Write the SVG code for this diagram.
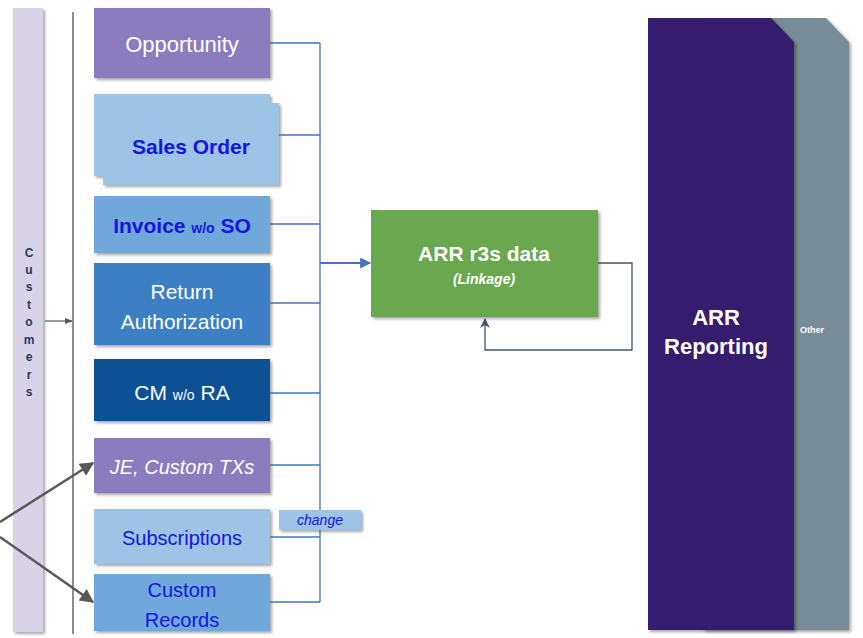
<svg xmlns="http://www.w3.org/2000/svg" width="863" height="638" viewBox="0 0 863 638">
<defs>
<filter id="sh" x="-10%" y="-10%" width="130%" height="130%">
<feDropShadow dx="2" dy="2" stdDeviation="1.5" flood-color="#000" flood-opacity="0.35"/>
</filter>
<marker id="ab2" viewBox="0 0 10 10" refX="9" refY="5" markerWidth="16" markerHeight="11" markerUnits="userSpaceOnUse" orient="auto"><path d="M0,0 L10,5 L0,10 z" fill="#4472c4"/></marker>
<marker id="ag" viewBox="0 0 10 10" refX="9" refY="5" markerWidth="8" markerHeight="8" markerUnits="userSpaceOnUse" orient="auto"><path d="M0,1 L10,5 L0,9 z" fill="#595959"/></marker>
<marker id="agb" viewBox="0 0 10 10" refX="9" refY="5" markerWidth="16" markerHeight="14" markerUnits="userSpaceOnUse" orient="auto"><path d="M0,0 L10,5 L0,10 z" fill="#595959"/></marker>
<marker id="as" viewBox="0 0 10 10" refX="9" refY="5" markerWidth="10" markerHeight="10" markerUnits="userSpaceOnUse" orient="auto"><path d="M0,0 L10,5 L0,10 L3,5 z" fill="#44546a"/></marker>
</defs>
<style>
.t{font-family:"Liberation Sans",Arial,sans-serif;text-anchor:middle}
.w{fill:#ffffff}
.b{fill:#1515e0}
.conn{fill:none;stroke:#4472c4;stroke-width:1.3}
</style>

<g id="customers">
<rect x="13" y="8" width="30" height="624" fill="#d9d3e8" filter="url(#sh)"/>
<text class="t" x="29" font-size="12" font-weight="bold" fill="#1f3864">
<tspan x="29" y="257">C</tspan><tspan x="29" y="274">u</tspan><tspan x="29" y="291">s</tspan><tspan x="29" y="309">t</tspan><tspan x="29" y="326">o</tspan><tspan x="29" y="344">m</tspan><tspan x="29" y="361">e</tspan><tspan x="29" y="379">r</tspan><tspan x="29" y="396">s</tspan>
</text>
</g>

<g id="divider">
<line x1="73" y1="12" x2="73" y2="634" stroke="#404040" stroke-width="1.2"/>
</g>

<g id="opportunity">
<rect x="94" y="8" width="176" height="70" fill="#8b7bc0" filter="url(#sh)"/>
<text class="t w" x="182" y="52" font-size="22">Opportunity</text>
</g>

<g id="sales-order">
<rect x="94" y="94" width="176" height="82" fill="#9dc3e6" filter="url(#sh)"/>
<rect x="103" y="103" width="176" height="82" fill="#9dc3e6" filter="url(#sh)"/>
<text class="t b" x="191" y="154" font-size="21" font-weight="bold">Sales Order</text>
</g>

<g id="invoice">
<rect x="94" y="196" width="176" height="57" fill="#6fa8dc" filter="url(#sh)"/>
<text class="t b" x="182" y="233" font-size="21" font-weight="bold">Invoice <tspan font-size="14">w/o</tspan> SO</text>
</g>

<g id="return-authorization">
<rect x="94" y="263" width="176" height="82" fill="#3d7fc4" filter="url(#sh)"/>
<text class="t w" x="182" y="299" font-size="21">Return</text>
<text class="t w" x="182" y="329" font-size="21">Authorization</text>
</g>

<g id="cm">
<rect x="94" y="359" width="176" height="62" fill="#0d5195" filter="url(#sh)"/>
<text class="t w" x="182" y="400" font-size="21">CM <tspan font-size="14">w/o</tspan> RA</text>
</g>

<g id="je">
<rect x="94" y="438" width="176" height="55" fill="#8b7bc0" filter="url(#sh)"/>
<text class="t w" x="182" y="474" font-size="20" font-style="italic">JE, Custom TXs</text>
</g>

<g id="subscriptions">
<rect x="94" y="509" width="176" height="55" fill="#9dc3e6" filter="url(#sh)"/>
<text class="t b" x="182" y="545" font-size="20">Subscriptions</text>
</g>

<g id="custom-records">
<rect x="94" y="574" width="176" height="57" fill="#6fa8dc" filter="url(#sh)"/>
<text class="t b" x="182" y="597" font-size="20">Custom</text>
<text class="t b" x="182" y="627" font-size="20">Records</text>
</g>

<g id="arr-r3s">
<rect x="371" y="210" width="227" height="107" fill="#6aa84f" filter="url(#sh)"/>
<text class="t w" x="484" y="261" font-size="21" font-weight="bold">ARR r3s data</text>
<text class="t w" x="484" y="284" font-size="14" font-weight="bold" font-style="italic">(Linkage)</text>
</g>

<g id="other">
<path d="M703,18 L826,18 L849,42 L849,630 L703,630 z" fill="#788c97" filter="url(#sh)"/>
<text class="t w" x="812" y="333" font-size="9" font-weight="bold">Other</text>
</g>

<g id="arr-reporting">
<path d="M648,18 L771,18 L794,42 L794,630 L648,630 z" fill="#341b6e" filter="url(#sh)"/>
<text class="t w" x="716" y="325" font-size="22" font-weight="bold">ARR</text>
<text class="t w" x="716" y="354" font-size="22" font-weight="bold">Reporting</text>
</g>

<g id="connectors">
<path class="conn" d="M270,43 H320 M279,135 H320 M270,224 H320 M270,303 H320 M270,393 H320 M270,465 H320 M270,537 H320 M270,602 H320 M320,43 V602"/>
<line x1="320" y1="263" x2="370" y2="263" stroke="#4472c4" stroke-width="2" marker-end="url(#ab2)"/>
<line x1="45" y1="321" x2="72" y2="321" stroke="#595959" stroke-width="1.2" marker-end="url(#ag)"/>
<line x1="0" y1="522" x2="93" y2="463" stroke="#595959" stroke-width="2.5" marker-end="url(#agb)"/>
<line x1="0" y1="537" x2="93" y2="602" stroke="#595959" stroke-width="2.5" marker-end="url(#agb)"/>
<path d="M598,263 H632 V350 H485 V319" fill="none" stroke="#44546a" stroke-width="1.3" marker-end="url(#as)"/>
</g>

<g id="change-label">
<rect x="279" y="510" width="82" height="20" fill="#9dc3e6" filter="url(#sh)"/>
<text class="t b" x="320" y="525" font-size="14" font-style="italic">change</text>
</g>
</svg>
